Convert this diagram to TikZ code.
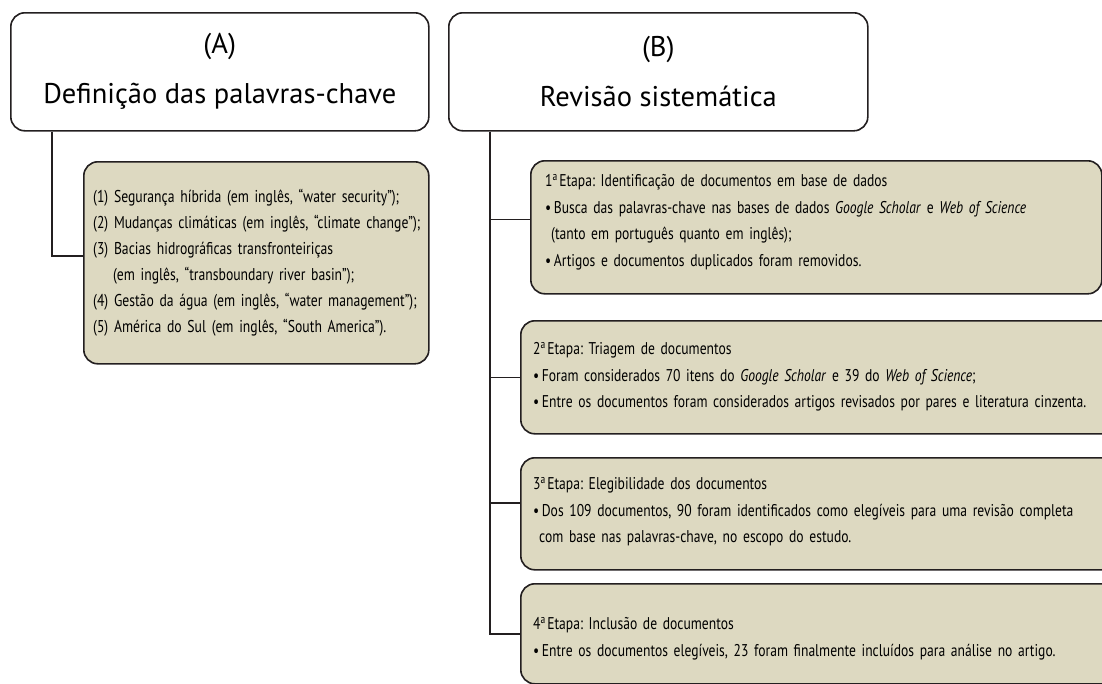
\documentclass[tikz,border=0pt]{standalone}
\usepackage{fontspec}
\setmainfont{PT Sans}
\newfontfamily\condfont[FakeStretch=0.8,WordSpace=0.7]{PT Sans}
\usetikzlibrary{calc,positioning}
\definecolor{boxfill}{RGB}{221,217,193}
\definecolor{boxline}{RGB}{35,31,32}
\newcommand{\blt}{•\hspace{2.5pt}}

\begin{document}
\frenchspacing
\begin{tikzpicture}[x=1pt,y=-1pt,
    header/.style={draw=boxline,line width=1.6pt,rounded corners=14pt,fill=white,anchor=north west,
      align=center,inner sep=0pt,font=\fontsize{28.5}{50}\selectfont},
    stepbox/.style={draw=boxline,line width=1.6pt,rounded corners=14pt,fill=boxfill,anchor=north west,inner sep=0pt},
    steptext/.style={anchor=north west,inner sep=0pt,align=left,text width=560pt,
      font=\condfont\fontsize{17}{26.5}\selectfont},
    link/.style={draw=boxline,line width=1.4pt}]
    \path[use as bounding box] (0,0) rectangle (1102,683);
    \clip (0,0) rectangle (1102,683);
    \node[header,minimum width=418pt,minimum height=118pt] (hdrA) at (10,12) {(A)\\Definição das palavras-chave};
    \node[header,minimum width=419pt,minimum height=118pt] (hdrB) at (448,12) {(B)\\Revisão sistemática};
    \node[stepbox,minimum width=345pt,minimum height=202pt] (palavras) at (83,161) {};
    \node[steptext,font=\condfont\fontsize{17.1}{26}\selectfont] (palavrastxt) at ($(palavras.north west)+(10,28)$)
      {(1) Segurança híbrida (em inglês, “water security”);\\
       (2) Mudanças climáticas (em inglês, “climate change”);\\
       (3) Bacias hidrográficas transfronteiriças\\
       \hspace*{20pt}(em inglês, “transboundary river basin”);\\
       (4) Gestão da água (em inglês, “water management”);\\
       (5) América do Sul (em inglês, “South America”).};
    \node[stepbox,minimum width=571pt,minimum height=133pt] (etapa1) at (530,160) {};
    \node[stepbox,minimum width=595pt,minimum height=113pt] (etapa2) at (520,320) {};
    \node[stepbox,minimum width=595pt,minimum height=112pt] (etapa3) at (520,457) {};
    \node[stepbox,minimum width=595pt,minimum height=100pt] (etapa4) at (520,583) {};
    \node[steptext] (etapa1txt) at ($(etapa1.north west)+(15,14)$)
      {1\textsuperscript{a}\kern1.5pt Etapa: Identificação de documentos em base de dados\\
       \blt Busca das palavras-chave nas bases de dados \textit{Google Scholar} e \textit{Web of Science}\\
       \hspace*{6pt}(tanto em português quanto em inglês);\\
       \blt Artigos e documentos duplicados foram removidos.};
    \node[steptext] (etapa2txt) at ($(etapa2.north west)+(13,22)$)
      {2\textsuperscript{a}\kern1.5pt Etapa: Triagem de documentos\\
       \blt Foram considerados 70 itens do \textit{Google Scholar} e 39 do \textit{Web of Science};\\
       \blt Entre os documentos foram considerados artigos revisados por pares e literatura cinzenta.};
    \node[steptext] (etapa3txt) at ($(etapa3.north west)+(13,20)$)
      {3\textsuperscript{a}\kern1.5pt Etapa: Elegibilidade dos documentos\\
       \blt Dos 109 documentos, 90 foram identificados como elegíveis para uma revisão completa\\
       \hspace*{6pt}com base nas palavras-chave, no escopo do estudo.};
    \node[steptext] (etapa4txt) at ($(etapa4.north west)+(13,34)$)
      {4\textsuperscript{a}\kern1.5pt Etapa: Inclusão de documentos\\
       \blt Entre os documentos elegíveis, 23 foram finalmente incluídos para análise no artigo.};
    % connectors
    \coordinate (trunkA) at ([xshift=42pt]hdrA.south west);
    \coordinate (trunkB) at ([xshift=42pt]hdrB.south west);
    \coordinate (inA) at ([yshift=7pt]palavras.west);
    \coordinate (in1) at ([yshift=8pt]etapa1.west);
    \coordinate (in3) at ([yshift=11pt]etapa3.west);
    \draw[link] (trunkA) |- (inA);
    \draw[link] (trunkB) |- (etapa4.west);
    \draw[link] (trunkB |- in1) -- (in1);
    \draw[link] (trunkB |- etapa2.west) -- (etapa2.west);
    \draw[link] (trunkB |- in3) -- (in3);
\end{tikzpicture}
\end{document}
